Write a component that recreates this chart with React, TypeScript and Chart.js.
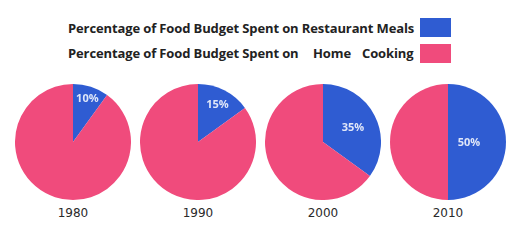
import React, { useEffect, useRef } from "react";
import { Chart, registerables } from "chart.js";

Chart.register(...registerables);

const years = ["1980", "1990", "2000", "2010"];
const restaurantMeals = [10, 15, 35, 50];
const homeCooking = [90, 85, 65, 50];
const seriesLabels = [
  "Percentage of Food Budget Spent on Restaurant Meals",
  "Percentage of Food Budget Spent on Home Cooking",
];

const BLUE = "#2f5cd2";
const PINK = "#f04b7c";
const labelRadiusFactor = [0.8, 0.74, 0.58, 0.36];
const CENTER_X = [73, 198, 323, 448];
const CENTER_Y = 142;
const R = 58;

const pctLabelPlugin = {
  id: "pctLabel",
  afterDatasetsDraw(chart: any) {
    const meta = chart.getDatasetMeta(0);
    const arc = meta.data[0];
    if (!arc) return;
    const idx = chart.options.plugins.pctLabel.index;
    const { x, y, startAngle, endAngle, outerRadius } = arc.getProps(
      ["x", "y", "startAngle", "endAngle", "outerRadius"],
      true
    );
    const mid = (startAngle + endAngle) / 2;
    const rr = outerRadius * labelRadiusFactor[idx];
    const ctx = chart.ctx;
    ctx.save();
    ctx.font = "bold 11px 'Open Sans', sans-serif";
    ctx.fillStyle = "#dfe6f8";
    ctx.textAlign = "center";
    ctx.textBaseline = "middle";
    ctx.fillText(
      chart.data.datasets[0].data[0] + "%",
      x + Math.cos(mid) * rr,
      y + Math.sin(mid) * rr + 1
    );
    ctx.restore();
  },
};

function Pie({ idx }: { idx: number }) {
  const ref = useRef<HTMLCanvasElement | null>(null);
  useEffect(() => {
    if (!ref.current) return;
    const chart = new Chart(ref.current, {
      type: "pie",
      data: {
        labels: seriesLabels,
        datasets: [
          {
            data: [restaurantMeals[idx], homeCooking[idx]],
            backgroundColor: [BLUE, PINK],
            borderWidth: 0,
          },
        ],
      },
      options: {
        responsive: false,
        animation: false,
        layout: { padding: 0 },
        plugins: {
          legend: { display: false },
          tooltip: { enabled: false },
          pctLabel: { index: idx },
        } as any,
      },
      plugins: [pctLabelPlugin],
    });
    return () => chart.destroy();
  }, [idx]);
  return (
    <canvas
      ref={ref}
      width={R * 2}
      height={R * 2}
      style={{
        position: "absolute",
        left: CENTER_X[idx] - R,
        top: CENTER_Y - R,
        width: R * 2,
        height: R * 2,
      }}
    />
  );
}

const legendFont: React.CSSProperties = {
  position: "absolute",
  fontFamily: "'Open Sans', sans-serif",
  fontWeight: 700,
  fontSize: 13,
  letterSpacing: -0.12,
  color: "#222",
  whiteSpace: "nowrap",
  lineHeight: "16px",
};

export default function App() {
  return (
    <div
      style={{
        position: "fixed",
        left: 0,
        top: 0,
        width: 527,
        height: 240,
        background: "#fff",
        overflow: "hidden",
      }}
    >
      <div style={{ ...legendFont, left: 68, top: 20 }}>{seriesLabels[0]}</div>
      <div style={{ ...legendFont, left: 68, top: 45 }}>
        Percentage of Food Budget Spent on
      </div>
      <div style={{ ...legendFont, left: 313, top: 45 }}>Home</div>
      <div style={{ ...legendFont, left: 362, top: 45 }}>Cooking</div>
      <div
        style={{
          position: "absolute",
          left: 420,
          top: 18,
          width: 31,
          height: 19,
          background: BLUE,
        }}
      />
      <div
        style={{
          position: "absolute",
          left: 420,
          top: 44,
          width: 31,
          height: 19,
          background: PINK,
        }}
      />
      {years.map((y, i) => (
        <Pie key={y} idx={i} />
      ))}
      {years.map((y, i) => (
        <div
          key={"l" + y}
          style={{
            position: "absolute",
            left: CENTER_X[i] - 30,
            width: 60,
            top: 206,
            textAlign: "center",
            fontFamily: "'DejaVu Sans', sans-serif",
            fontSize: 12,
            color: "#2a2a2a",
            lineHeight: "14px",
          }}
        >
          {y}
        </div>
      ))}
    </div>
  );
}
